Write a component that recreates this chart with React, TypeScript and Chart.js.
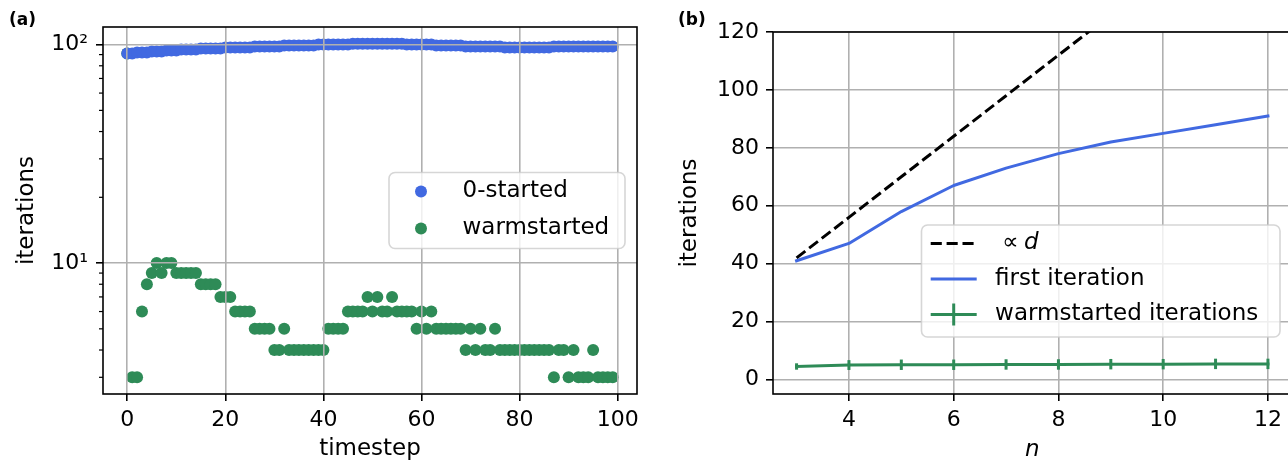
import React, { useEffect, useRef } from 'react';
import { Chart, registerables } from 'chart.js';
Chart.register(...registerables);

const FONT = "'DejaVu Sans', sans-serif";
const BLUE = '#4169E1';
const GREEN = '#2E8B57';

// ---------- panel (a) data ----------
const zeroStarted = [
  91, 91, 92, 92, 92, 93, 93, 93, 94, 94,
  94, 95, 95, 95, 95, 96, 96, 96, 96, 96,
  97, 97, 97, 97, 97, 97, 98, 98, 98, 98,
  98, 98, 99, 99, 99, 99, 99, 99, 99, 100,
  100, 100, 100, 100, 100, 100, 101, 101, 101, 101,
  101, 101, 101, 101, 101, 101, 101, 100, 100, 100,
  100, 100, 100, 99, 99, 99, 99, 99, 99, 98,
  98, 98, 98, 98, 98, 98, 98, 97, 97, 97,
  97, 97, 97, 97, 97, 97, 97, 98, 98, 98,
  98, 98, 98, 98, 98, 98, 98, 98, 98, 98,
];
const warmstarted = [
  91, 3, 3, 6, 8, 9, 10, 9, 10, 10,
  9, 9, 9, 9, 9, 8, 8, 8, 8, 7,
  7, 7, 6, 6, 6, 6, 5, 5, 5, 5,
  4, 4, 5, 4, 4, 4, 4, 4, 4, 4,
  4, 5, 5, 5, 5, 6, 6, 6, 6, 7,
  6, 7, 6, 6, 7, 6, 6, 6, 6, 5,
  6, 5, 6, 5, 5, 5, 5, 5, 5, 4,
  5, 4, 5, 4, 4, 5, 4, 4, 4, 4,
  4, 4, 4, 4, 4, 4, 4, 3, 4, 4,
  3, 4, 3, 3, 3, 4, 3, 3, 3, 3,
];
const timesteps = zeroStarted.map((_, i) => i);
const leftXTicks = [0, 20, 40, 60, 80, 100];
const leftYMajor = [10, 100];
const leftYMinor = [3, 4, 5, 6, 7, 8, 9, 20, 30, 40, 50, 60, 70, 80, 90];

// ---------- panel (b) data ----------
const nValues = [3, 4, 5, 6, 7, 8, 9, 10, 11, 12];
const propToD = [42, 56, 70, 84, 98, 112, 126, 140, 154, 168];
const firstIteration = [41, 47, 58, 67, 73, 78, 82, 85, 88, 91];
const warmIterations = [4.5, 5.0, 5.1, 5.1, 5.2, 5.2, 5.3, 5.3, 5.4, 5.4];
const warmErr = [1.1, 1.7, 1.8, 1.8, 1.8, 1.8, 1.8, 1.8, 1.8, 1.8];
const rightXTicks = [4, 6, 8, 10, 12];
const rightYTicks = [0, 20, 40, 60, 80, 100, 120];

const tickFont = { family: FONT, size: 22 };
const titleFont = { family: FONT, size: 23 };

function gridOpts(z: number) {
  return {
    color: '#b0b0b0', lineWidth: 1.6, tickColor: '#000000', tickLength: 7,
    tickWidth: 1.6, drawTicks: true, z,
  };
}

function roundRect(ctx: CanvasRenderingContext2D, x: number, y: number, w: number, h: number, r: number) {
  ctx.beginPath();
  ctx.moveTo(x + r, y);
  ctx.arcTo(x + w, y, x + w, y + h, r);
  ctx.arcTo(x + w, y + h, x, y + h, r);
  ctx.arcTo(x, y + h, x, y, r);
  ctx.arcTo(x, y, x + w, y, r);
  ctx.closePath();
}

function legendFrame(ctx: CanvasRenderingContext2D, x: number, y: number, w: number, h: number) {
  roundRect(ctx, x, y, w, h, 6);
  ctx.fillStyle = 'rgba(255,255,255,0.8)';
  ctx.fill();
  ctx.strokeStyle = 'rgba(204,204,204,0.8)';
  ctx.lineWidth = 1.6;
  ctx.stroke();
}

const leftDecor = {
  id: 'leftDecor',
  afterDraw(chart: any) {
    const { ctx, chartArea: a, scales } = chart;
    ctx.save();
    ctx.strokeStyle = '#000';
    ctx.lineWidth = 1.2;
    for (const v of leftYMinor) {
      const y = scales.y.getPixelForValue(v);
      ctx.beginPath();
      ctx.moveTo(a.left - 4, y);
      ctx.lineTo(a.left, y);
      ctx.stroke();
    }
    ctx.lineWidth = 1.6;
    ctx.strokeStyle = '#000';
    ctx.strokeRect(a.left, a.top, a.right - a.left, a.bottom - a.top);

    // legend
    const bw = 236, bh = 76;
    const bx = a.right - 12 - bw;
    const by = (a.top + a.bottom) / 2 - bh / 2;
    legendFrame(ctx, bx, by, bw, bh);
    ctx.font = `23px ${FONT}`;
    ctx.textBaseline = 'middle';
    ctx.textAlign = 'left';
    chart.data.datasets.forEach((ds: any, i: number) => {
      const y = by + 19 + i * 37;
      ctx.beginPath();
      ctx.arc(bx + 32, y, 6, 0, Math.PI * 2);
      ctx.fillStyle = ds.backgroundColor;
      ctx.fill();
      ctx.fillStyle = '#000';
      ctx.fillText(ds.label, bx + 73.5, y);
    });

    ctx.font = `bold 17px ${FONT}`;
    ctx.textBaseline = 'alphabetic';
    ctx.fillStyle = '#000';
    ctx.fillText('(a)', 9, 25);
    ctx.restore();
  },
};

const rightDecor = {
  id: 'rightDecor',
  afterDatasetsDraw(chart: any) {
    const { ctx, scales } = chart;
    const ds = chart.data.datasets[2];
    ctx.save();
    ctx.strokeStyle = ds.borderColor;
    ctx.lineWidth = 3;
    ds.data.forEach((p: any, i: number) => {
      const x = scales.x.getPixelForValue(p.x);
      ctx.beginPath();
      ctx.moveTo(x, scales.y.getPixelForValue(p.y - warmErr[i]));
      ctx.lineTo(x, scales.y.getPixelForValue(p.y + warmErr[i]));
      ctx.stroke();
    });
    ctx.restore();
  },
  afterDraw(chart: any) {
    const { ctx, chartArea: a } = chart;
    ctx.save();
    ctx.lineWidth = 1.6;
    ctx.strokeStyle = '#000';
    ctx.strokeRect(a.left, a.top, a.right - a.left, a.bottom - a.top);

    const bw = 358.5, bh = 112;
    const bx = a.right - 11.5 - bw;
    const by = 225;
    legendFrame(ctx, bx, by, bw, bh);
    const hx0 = bx + 9.2, hx1 = hx0 + 46;
    const tx = hx1 + 18.4;
    ctx.font = `23px ${FONT}`;
    ctx.textBaseline = 'middle';
    ctx.textAlign = 'left';
    chart.data.datasets.forEach((d: any, i: number) => {
      const y = by + 18.5 + i * 35.5;
      ctx.save();
      ctx.strokeStyle = d.borderColor;
      ctx.lineWidth = 3;
      if (d.borderDash && d.borderDash.length) {
        ctx.setLineDash(d.borderDash);
        ctx.lineCap = 'butt';
      } else {
        ctx.lineCap = 'square';
      }
      ctx.beginPath();
      ctx.moveTo(hx0 + (ctx.lineCap === 'square' ? 1.5 : 0), y);
      ctx.lineTo(hx1 - (ctx.lineCap === 'square' ? 1.5 : 0), y);
      ctx.stroke();
      if (i === 2) {
        ctx.lineCap = 'butt';
        ctx.beginPath();
        ctx.moveTo((hx0 + hx1) / 2, y - 11);
        ctx.lineTo((hx0 + hx1) / 2, y + 11);
        ctx.stroke();
      }
      ctx.restore();
      ctx.fillStyle = '#000';
      const label: string = d.label;
      if (label.startsWith('∝')) {
        ctx.font = `23px ${FONT}`;
        ctx.fillText('∝', tx + 7, y);
        ctx.font = `italic 23px ${FONT}`;
        ctx.fillText(label.slice(1).trim(), tx + 29, y);
        ctx.font = `23px ${FONT}`;
      } else {
        ctx.fillText(label, tx, y);
      }
    });

    ctx.font = `bold 17px ${FONT}`;
    ctx.textBaseline = 'alphabetic';
    ctx.fillStyle = '#000';
    ctx.fillText('(b)', 28, 25);
    ctx.restore();
  },
};

function leftConfig(): any {
  return {
    type: 'scatter',
    data: {
      datasets: [
        {
          label: '0-started',
          data: zeroStarted.map((y, i) => ({ x: timesteps[i], y })),
          backgroundColor: BLUE, borderWidth: 0, pointRadius: 6, pointHoverRadius: 6,
        },
        {
          label: 'warmstarted',
          data: warmstarted.map((y, i) => ({ x: timesteps[i], y })),
          backgroundColor: GREEN, borderWidth: 0, pointRadius: 6, pointHoverRadius: 6,
        },
      ],
    },
    options: {
      animation: false, responsive: false, devicePixelRatio: 1, events: [],
      layout: { padding: { left: 0, right: 13, top: 27, bottom: 0 } },
      plugins: { legend: { display: false }, tooltip: { enabled: false } },
      scales: {
        x: {
          type: 'linear', min: -4.95, max: 103.95,
          afterBuildTicks: (s: any) => { s.ticks = leftXTicks.map((v) => ({ value: v })); },
          afterFit: (s: any) => { s.height = 71; },
          grid: gridOpts(1), border: { display: false },
          ticks: { font: tickFont, color: '#000', padding: 6.4, maxRotation: 0, autoSkip: false, callback: (v: any) => String(v) },
          title: { display: true, text: 'timestep', font: titleFont, color: '#000', padding: { top: 0, bottom: 2.5 } },
        },
        y: {
          type: 'logarithmic', min: 2.516, max: 120.4,
          afterBuildTicks: (s: any) => { s.ticks = leftYMajor.map((v) => ({ value: v })); },
          afterFit: (s: any) => { s.width = 103; },
          grid: gridOpts(1), border: { display: false },
          ticks: {
            font: tickFont, color: '#000', padding: 8, autoSkip: false,
            callback: (v: any) => (v === 10 ? '10¹' : v === 100 ? '10²' : ''),
          },
          title: { display: true, text: 'iterations', font: titleFont, color: '#000', padding: { top: 13.5, bottom: 0 } },
        },
      },
    },
    plugins: [leftDecor],
  };
}

function rightConfig(): any {
  const line = (label: string, vals: number[], color: string, dash: number[]) => ({
    label,
    data: vals.map((y, i) => ({ x: nValues[i], y })),
    showLine: true, borderColor: color, backgroundColor: color, borderWidth: 3,
    borderDash: dash, pointRadius: 0, pointHoverRadius: 0, tension: 0, clip: 0,
    borderCapStyle: dash.length ? 'butt' : 'square', borderJoinStyle: 'round',
  });
  return {
    type: 'scatter',
    data: {
      datasets: [
        line('∝ d', propToD, '#000000', [11.1, 4.8]),
        line('first iteration', firstIteration, BLUE, []),
        line('warmstarted iterations', warmIterations, GREEN, []),
      ],
    },
    options: {
      animation: false, responsive: false, devicePixelRatio: 1, events: [],
      layout: { padding: { left: 0, right: 10.5, top: 32, bottom: 0 } },
      plugins: { legend: { display: false }, tooltip: { enabled: false } },
      scales: {
        x: {
          type: 'linear', min: 2.55, max: 12.45,
          afterBuildTicks: (s: any) => { s.ticks = rightXTicks.map((v) => ({ value: v })); },
          afterFit: (s: any) => { s.height = 71; },
          grid: gridOpts(-1), border: { display: false },
          ticks: { font: tickFont, color: '#000', padding: 6.4, maxRotation: 0, autoSkip: false, callback: (v: any) => String(v) },
          title: { display: true, text: 'n', font: { ...titleFont, style: 'italic' }, color: '#000', padding: { top: 0, bottom: 1.5 } },
        },
        y: {
          type: 'linear', min: -5, max: 120,
          afterBuildTicks: (s: any) => { s.ticks = rightYTicks.map((v) => ({ value: v })); },
          afterFit: (s: any) => { s.width = 123; },
          grid: gridOpts(-1), border: { display: false },
          ticks: { font: tickFont, color: '#000', padding: 7, autoSkip: false, callback: (v: any) => String(v) },
          title: { display: true, text: 'iterations', font: titleFont, color: '#000', padding: { top: 26.2, bottom: 0 } },
        },
      },
    },
    plugins: [rightDecor],
  };
}

export default function App() {
  const leftRef = useRef<HTMLCanvasElement>(null);
  const rightRef = useRef<HTMLCanvasElement>(null);
  useEffect(() => {
    const l = new Chart(leftRef.current as HTMLCanvasElement, leftConfig());
    const r = new Chart(rightRef.current as HTMLCanvasElement, rightConfig());
    return () => { l.destroy(); r.destroy(); };
  }, []);
  return (
    <div style={{ position: 'absolute', left: 0, top: 0, width: 1288, height: 465, overflow: 'hidden', background: '#ffffff' }}>
      <canvas ref={leftRef} width={650} height={465} style={{ position: 'absolute', left: 0, top: 0, width: 650, height: 465 }} />
      <canvas ref={rightRef} width={652} height={465} style={{ position: 'absolute', left: 650, top: 0, width: 652, height: 465 }} />
    </div>
  );
}
